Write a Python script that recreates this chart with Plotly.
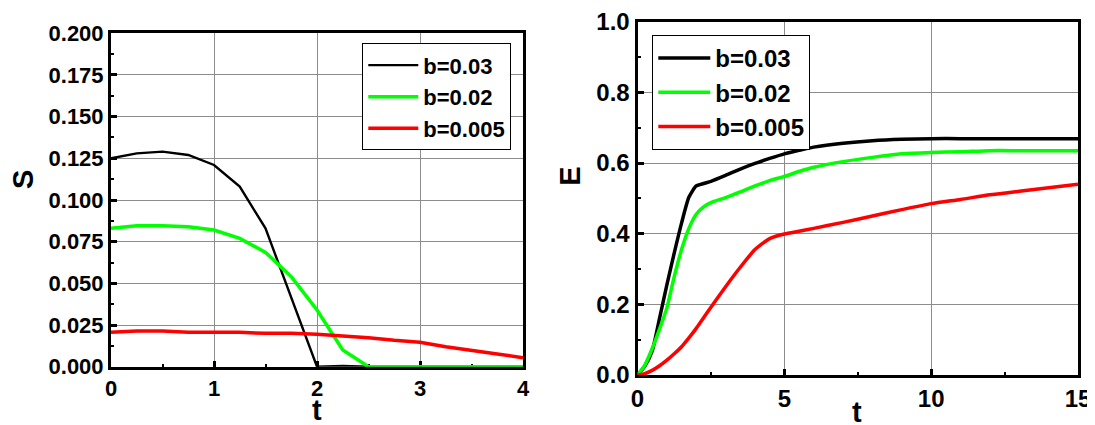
import plotly.graph_objects as go

# ---------------- data ----------------
t_left = [0, 0.25, 0.5, 0.75, 1.0, 1.25, 1.5, 1.75, 2.0, 2.25, 2.5, 2.75, 3.0, 3.25, 3.5, 3.75, 4.0]
S_b003 = [0.125, 0.128, 0.129, 0.127, 0.121, 0.108, 0.083, 0.042, 0.0, 0.0005, 0.0, 0.0, 0.0, 0.0, 0.0, 0.0, 0.0]
S_b002 = [0.083, 0.0846, 0.0846, 0.084, 0.082, 0.077, 0.0686, 0.054, 0.034, 0.010, 0.0, 0.0, 0.0, 0.0, 0.0, 0.0, 0.0]
S_b0005 = [0.0206, 0.0214, 0.0214, 0.0206, 0.0206, 0.0206, 0.020, 0.020, 0.0194, 0.0184, 0.0174, 0.0158, 0.0146,
           0.012, 0.0096, 0.0076, 0.0054]

t_right = [0, 0.25, 0.5, 0.75, 1.0, 1.25, 1.5, 1.75, 2.0, 2.25, 2.5, 3.0, 3.5, 4.0, 4.5, 5.0, 5.5, 6.0,
           7.0, 8.0, 9.0, 10.0, 11.0, 12.0, 13.0, 14.0, 15.0]
E_b003 = [0.0, 0.025, 0.068, 0.16, 0.255, 0.345, 0.43, 0.503, 0.535, 0.542, 0.548, 0.565, 0.583, 0.599, 0.613,
          0.626, 0.636, 0.645, 0.656, 0.663, 0.667, 0.669, 0.669, 0.669, 0.669, 0.669, 0.669]
E_b002 = [0.0, 0.028, 0.075, 0.13, 0.19, 0.278, 0.355, 0.415, 0.455, 0.476, 0.488, 0.502, 0.518, 0.535, 0.55,
          0.562, 0.576, 0.588, 0.604, 0.616, 0.626, 0.630, 0.632, 0.635, 0.635, 0.635, 0.635]
E_b0005 = [0.0, 0.004, 0.013, 0.026, 0.042, 0.06, 0.08, 0.105, 0.132, 0.162, 0.192, 0.25, 0.305, 0.355, 0.386,
           0.399, 0.407, 0.415, 0.432, 0.45, 0.468, 0.485, 0.497, 0.51, 0.52, 0.53, 0.54]

labels = ["b=0.03", "b=0.02", "b=0.005"]
colors = ["#000000", "#00ff00", "#ff0000"]

FONT = "Liberation Sans, Arial, sans-serif"
# the page body has an 8px margin, so the figure is placed at (8, 8) in the window
OFF = 8
W, H = 1095 - OFF, 425 - OFF

fig = go.Figure()

left_series = [S_b003, S_b002, S_b0005]
left_widths = [2.4, 3.5, 3.5]
for lab, col, ys, w in zip(labels, colors, left_series, left_widths):
    fig.add_trace(go.Scatter(x=t_left, y=ys, mode="lines", name=lab,
                             line=dict(color=col, width=w), xaxis="x", yaxis="y",
                             legend="legend"))

right_series = [E_b003, E_b002, E_b0005]
for lab, col, ys in zip(labels, colors, right_series):
    fig.add_trace(go.Scatter(x=t_right, y=ys, mode="lines", name=lab,
                             line=dict(color=col, width=3.5, shape="spline", smoothing=0.6),
                             xaxis="x2", yaxis="y2", legend="legend2"))


def px_x(p):
    return (p - OFF) / W


def px_y(p):
    return 1 - (p - OFF) / H


def axis_common(size, standoff):
    return dict(
        showline=True, linecolor="black", linewidth=3, mirror=True,
        ticks="inside", ticklen=6, tickwidth=2.5, tickcolor="black",
        showgrid=True, gridcolor="#8c8c8c", gridwidth=1,
        zeroline=False, automargin=False, layer="below traces",
        ticklabelstandoff=standoff,
        tickfont=dict(family=FONT, size=size, color="black", weight="bold"),
    )


def minor(d):
    return dict(dtick=d, ticks="inside", ticklen=3, tickwidth=2, tickcolor="black")


fig.update_layout(
    width=W, height=H,
    margin=dict(l=0, r=0, t=0, b=0),
    paper_bgcolor="white", plot_bgcolor="white",
    xaxis=dict(domain=[px_x(111), px_x(523)], anchor="y", range=[0, 4], dtick=1,
               minor=minor(0.5), **axis_common(22, 0)),
    yaxis=dict(domain=[px_y(366.7), px_y(33.3)], anchor="x", range=[0, 0.2], dtick=0.025,
               tickformat=".3f", minor=minor(0.0125), **axis_common(22, 0)),
    xaxis2=dict(domain=[px_x(637.5), px_x(1078)], anchor="y2", range=[0, 15], dtick=5,
                minor=minor(2.5), **axis_common(24, 0)),
    yaxis2=dict(domain=[px_y(375), px_y(21.7)], anchor="x2", range=[0, 1], dtick=0.2,
                tickformat=".1f", minor=minor(0.1), **axis_common(24, 0)),
    legend=dict(x=px_x(362.3), y=px_y(43.3), xanchor="left", yanchor="top",
                bgcolor="white", bordercolor="black", borderwidth=1, itemwidth=50,
                font=dict(family=FONT, size=22, color="black", weight="bold")),
    legend2=dict(x=px_x(652.3), y=px_y(35), xanchor="left", yanchor="top",
                 bgcolor="white", bordercolor="black", borderwidth=1, itemwidth=52,
                 font=dict(family=FONT, size=24, color="black", weight="bold")),
    showlegend=True,
)

title_font = dict(family=FONT, size=29, color="black", weight="bold")
annotations = [
    dict(text="S", x=px_x(23), y=px_y(180), textangle=-90),
    dict(text="t", x=px_x(317), y=px_y(410), textangle=0),
    dict(text="E", x=px_x(570), y=px_y(176.7), textangle=-90),
    dict(text="t", x=px_x(857), y=px_y(412), textangle=0),
]
for a in annotations:
    fig.add_annotation(xref="paper", yref="paper", xanchor="center", yanchor="middle",
                       showarrow=False, font=title_font, borderpad=0, **a)

fig.write_html("out.html")
